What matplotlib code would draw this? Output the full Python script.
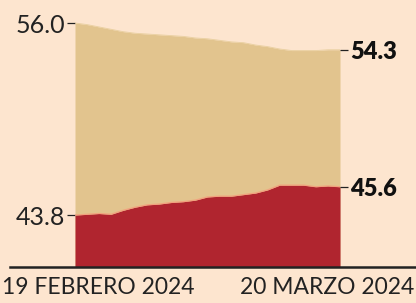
import matplotlib
matplotlib.use("Agg")
import matplotlib.pyplot as plt
from matplotlib.lines import Line2D

# Data
dates = ["19 FEBRERO 2024", "20 MARZO 2024"]
upper = [56.0, 55.9, 55.75, 55.6, 55.45, 55.35, 55.3, 55.25, 55.2, 55.15, 55.05,
         55.0, 54.9, 54.8, 54.75, 54.6, 54.5, 54.35, 54.25, 54.25, 54.25, 54.3, 54.3]
lower = [43.8, 43.85, 43.9, 43.85, 44.1, 44.3, 44.45, 44.5, 44.6, 44.65, 44.75,
         44.95, 45.0, 45.0, 45.1, 45.2, 45.4, 45.7, 45.7, 45.7, 45.6, 45.65, 45.6]
left_ticks = [43.8, 56.0]
right_ticks = [45.6, 54.3]

BG = "#fde5cf"
BEIGE = "#e2c48e"
RED = "#b0252f"
DARK = "#222222"

W, H = 416, 303
fig = plt.figure(figsize=(W / 100, H / 100), dpi=100, facecolor=BG)
ax = fig.add_axes([75 / W, (H - 267) / H, (340 - 75) / W, 267 / H])
ax.set_facecolor(BG)

x = list(range(len(upper)))
base = 40.5
ax.fill_between(x, base, upper, color=BEIGE, lw=0)
ax.fill_between(x, base, lower, color=RED, lw=0)
ax.plot(x, lower, color="#f2a27e", lw=0.9)
ax.plot(x, upper, color="#e9cf9f", lw=0.6)

ax.set_xlim(0, len(x) - 1)
ax.set_ylim(base, 56.0 + 23 / 15.74)
for s in ax.spines.values():
    s.set_visible(False)

font = "Lato"
ax.set_yticks(left_ticks)
ax.set_yticklabels([f"{v:.1f}" for v in left_ticks], fontsize=18, family=font,
                   color=DARK)
ax.tick_params(axis="y", length=6, width=0.9, color=DARK, pad=1)
ax.set_xticks([])

ax2 = ax.twinx()
ax2.set_ylim(ax.get_ylim())
for s in ax2.spines.values():
    s.set_visible(False)
ax2.set_yticks(right_ticks)
ax2.set_yticklabels([f"{v:.1f}" for v in right_ticks], fontsize=17,
                    fontweight="heavy", family=font, color="#111111")
ax2.tick_params(axis="y", length=6, width=0.9, color=DARK, pad=1)

# baseline spanning beyond the plot
fig.add_artist(Line2D([10 / W, 1.0], [(H - 267) / H] * 2, color=DARK, lw=1.8))

fig.text(2 / W, (H - 287) / H, dates[0], ha="left", va="center",
         fontsize=16.5, family=font, color=DARK)
fig.text(414 / W, (H - 287) / H, dates[1], ha="right", va="center",
         fontsize=16.5, family=font, color=DARK)

fig.savefig("out.png", dpi=100, facecolor=BG)
